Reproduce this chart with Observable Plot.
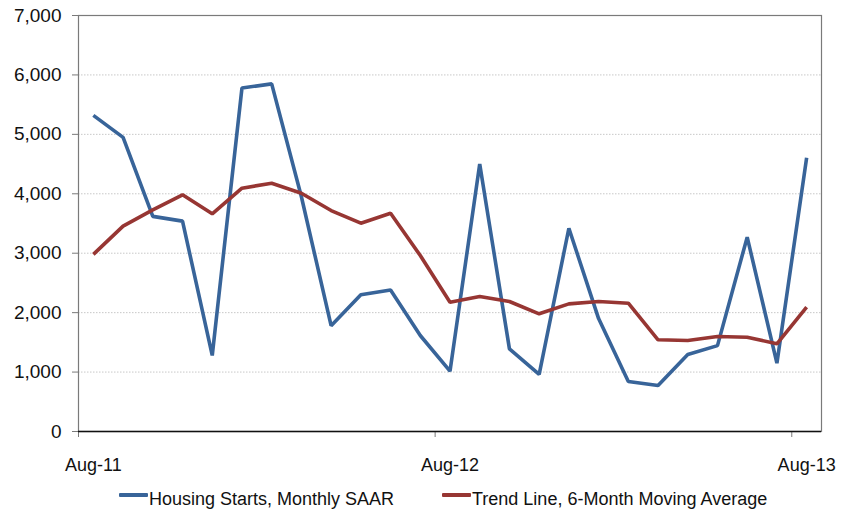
<!DOCTYPE html>
<html>
<head>
<meta charset="utf-8">
<script src="https://cdn.jsdelivr.net/npm/d3@7"></script>
<script src="https://cdn.jsdelivr.net/npm/@observablehq/plot@0.6"></script>
<style>
  html, body { margin: 0; padding: 0; background: #fff; }
  body { width: 842px; height: 512px; overflow: hidden; font-family: "Liberation Sans", Arial, sans-serif; }
  #chart svg { display: block; overflow: visible; }
  #legend { position: relative; height: 32px; font-size: 18px; color: #111; }
  .item { position: absolute; top: 9px; display: flex; align-items: center; white-space: nowrap; line-height: 1.15; }
  .sw { width: 29px; height: 4px; margin-right: 1px; position: relative; top: -4px; border-radius: 1px; }
</style>
</head>
<body>
<div id="chart"></div>
<div id="legend"></div>
<script>
const months = ["Aug-11","Sep-11","Oct-11","Nov-11","Dec-11","Jan-12","Feb-12","Mar-12","Apr-12","May-12","Jun-12","Jul-12",
  "Aug-12","Sep-12","Oct-12","Nov-12","Dec-12","Jan-13","Feb-13","Mar-13","Apr-13","May-13","Jun-13","Jul-13","Aug-13"];
const housingStarts = [5320, 4950, 3620, 3540, 1280, 5780, 5850, 3950, 1780, 2300, 2380, 1615,
  1015, 4500, 1390, 960, 3420, 1900, 840, 775, 1295, 1445, 3270, 1150, 4605];
const trendLine = [2980, 3455, 3730, 3983, 3663, 4094, 4178, 4010, 3718, 3505, 3673, 2961,
  2176, 2272, 2187, 1980, 2148, 2187, 2159, 1543, 1531, 1599, 1587, 1476, 2092];
const xTickLabels = ["Aug-11", "Aug-12", "Aug-13"];
const yTicks = [0, 1000, 2000, 3000, 4000, 5000, 6000, 7000];
const seriesNames = ["Housing Starts, Monthly SAAR", "Trend Line, 6-Month Moving Average"];
const colors = ["#386499", "#973633"];

const data = months.flatMap((m, i) => [
  {i, month: m, value: housingStarts[i], series: seriesNames[0]},
  {i, month: m, value: trendLine[i], series: seriesNames[1]}
]);
const xLabelPos = xTickLabels.map(l => months.indexOf(l));
const xTickPos = xLabelPos.map(p => p - 0.5);

const chart = Plot.plot({
  width: 842,
  height: 480,
  marginLeft: 78,
  marginRight: 21,
  marginTop: 15,
  marginBottom: 49,
  style: {fontFamily: "'Liberation Sans', Arial, sans-serif", color: "#111", background: "#fff"},
  x: {domain: [-0.5, months.length - 0.5], label: null},
  y: {domain: [0, 7000], label: null},
  marks: [
    Plot.ruleY(yTicks.filter(d => d > 0 && d < 7000), {stroke: "#c8c8c8", strokeDasharray: "1.5,1.5", strokeWidth: 1}),
    Plot.frame({stroke: "#7a7a7a", strokeWidth: 1.2}),
    Plot.axisY({ticks: yTicks, tickFormat: d3.format(","), tickSize: 6, tickPadding: 11, fontSize: 19, stroke: "#7a7a7a", label: null}),
    Plot.axisX({ticks: xTickPos, tickFormat: () => "", tickSize: 6, stroke: "#7a7a7a", label: null}),
    Plot.axisX({ticks: xLabelPos, tickFormat: (d, k) => xTickLabels[k], tickSize: 0, tickPadding: 27, fontSize: 18, label: null}),
    Plot.line(data, {x: "i", y: "value", z: "series", stroke: "series", strokeWidth: 3.6, strokeLinejoin: "miter", strokeLinecap: "butt"}),
    Plot.ruleY([0], {stroke: "#111", strokeWidth: 1.3})
  ],
  color: {domain: seriesNames, range: colors}
});
document.getElementById("chart").appendChild(chart);

const legend = document.getElementById("legend");
const lefts = [119, 442];
seriesNames.forEach((name, k) => {
  const it = document.createElement("div");
  it.className = "item";
  it.style.left = lefts[k] + "px";
  it.innerHTML = `<span class="sw" style="background:${colors[k]}"></span><span>${name}</span>`;
  legend.appendChild(it);
});
</script>
</body>
</html>
